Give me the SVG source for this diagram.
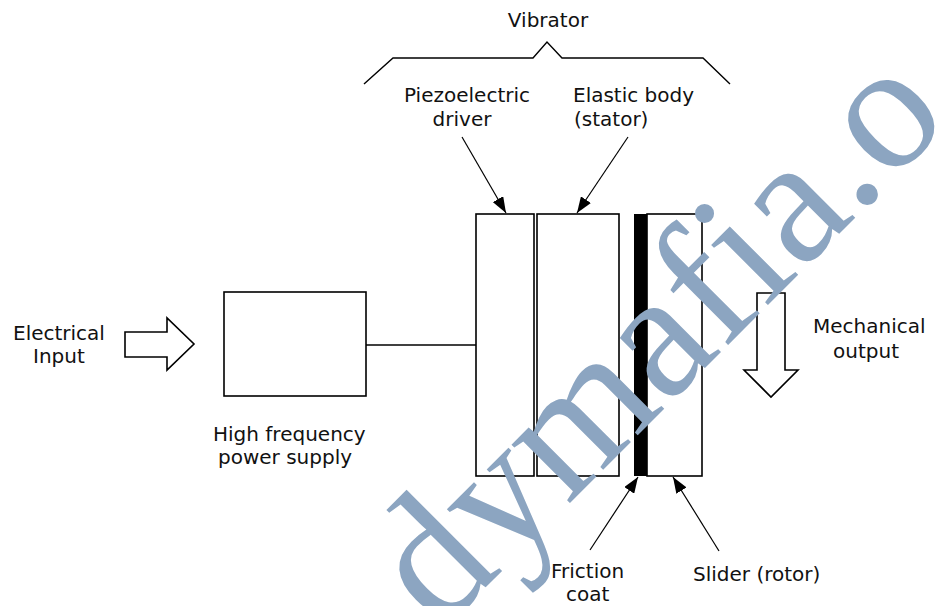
<svg xmlns="http://www.w3.org/2000/svg" width="935" height="606" viewBox="0 0 935 606">
<style>
  .lbl { font-family: "DejaVu Sans", "Liberation Sans", sans-serif; font-size: 20px; fill: #111; }
  .box { fill: #fff; stroke: #000; stroke-width: 1.6; }
  .ptr { fill: none; stroke: #000; stroke-width: 1.2; marker-end: url(#head); }
  .bigarrow { fill: #fff; stroke: #000; stroke-width: 1.6; stroke-linejoin: miter; }
  .wm { font-family: "Liberation Serif", "Times New Roman", serif; font-size: 180px; fill: #8ca5c1; }
</style>
<defs>
  <marker id="head" viewBox="0 0 16 12" refX="16" refY="6" markerWidth="16" markerHeight="12" markerUnits="userSpaceOnUse" orient="auto">
    <path d="M0,0 L16,6 L0,12 Z" fill="#000"/>
  </marker>
</defs>
<rect width="935" height="606" fill="#fff"/>

<g id="vibrator-label">
  <text class="lbl" x="548" y="27" text-anchor="middle">Vibrator</text>
  <polyline points="364,84 393,58 533,58 547,42 562,58 703,58 730,84" fill="none" stroke="#000" stroke-width="1.4"/>
</g>

<g id="electrical-input">
  <text class="lbl" x="13" y="340">Electrical</text>
  <text class="lbl" x="33" y="363">Input</text>
  <path class="bigarrow" d="M125,332 H167 V318 L194,344 L167,370 V357 H125 Z"/>
</g>

<g id="power-supply">
  <rect class="box" x="224" y="292" width="142" height="104"/>
  <text class="lbl" x="213" y="441">High frequency</text>
  <text class="lbl" x="218" y="464">power supply</text>
</g>

<g id="piezo-driver">
  <rect class="box" x="476" y="214" width="58" height="262"/>
  <text class="lbl" x="467" y="102" text-anchor="middle">Piezoelectric</text>
  <text class="lbl" x="462" y="126" text-anchor="middle">driver</text>
</g>

<g id="elastic-body">
  <rect class="box" x="537" y="214" width="82" height="262"/>
  <text class="lbl" x="573" y="102">Elastic body</text>
  <text class="lbl" x="574" y="126">(stator)</text>
</g>

<g id="friction-coat">
  <rect x="634" y="214" width="13" height="262" fill="#000"/>
  <text class="lbl" x="551" y="578">Friction</text>
  <text class="lbl" x="566" y="601">coat</text>
</g>

<g id="slider">
  <rect class="box" x="647" y="214" width="55" height="262"/>
  <text class="lbl" x="693" y="581">Slider (rotor)</text>
</g>

<g id="mechanical-output">
  <path class="bigarrow" d="M757,293 H785 V370 H798 L771,397 L744,370 H757 Z"/>
  <text class="lbl" x="813" y="333">Mechanical</text>
  <text class="lbl" x="833" y="358">output</text>
</g>

<g id="connectors">
  <line x1="366" y1="345" x2="476" y2="345" stroke="#000" stroke-width="1.6"/>
  <line class="ptr" x1="462" y1="137" x2="506" y2="213"/>
  <line class="ptr" x1="628" y1="137" x2="577" y2="213"/>
  <line class="ptr" x1="590" y1="550" x2="638" y2="477"/>
  <line class="ptr" x1="719" y1="551" x2="673" y2="477"/>
</g>

<g id="watermark">
  <text class="wm" x="0" y="0" transform="translate(440,633) rotate(-45)">dymafia.o</text>
</g>
</svg>
